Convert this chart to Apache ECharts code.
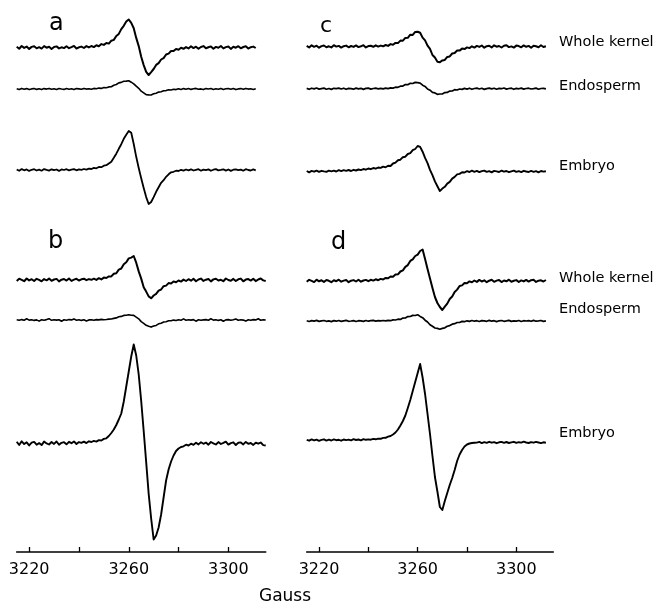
<!DOCTYPE html>
<html>
<head>
<meta charset="utf-8">
<script src="https://cdn.jsdelivr.net/npm/echarts@6/dist/echarts.min.js"></script>
<style>
html,body{margin:0;padding:0;background:#fff;}
#chart{width:658px;height:607px;}
</style>
</head>
<body>
<div id="chart"></div>
<script>
// Magnetic field sampling of every spectrum (Gauss)
var FIELD_START = 3215;
var FIELD_STEP = 1;

// Axis ticks / labels (Gauss)
var tickValues = [3220, 3240, 3260, 3280, 3300];
var tickLabels = [3220, 3260, 3300];

var panelNames = ['a', 'b', 'c', 'd'];
var traceNames = ['Whole kernel', 'Endosperm', 'Embryo'];

// EPR first-derivative signals (arbitrary units), one value per Gauss from FIELD_START
// Panel a
var aWholeKernel = [
 0.8,-1.2,1.5,-0.4,0.9,-1.4,0.6,1.2,-0.8,0.3,
 -1.1,1.4,-0.2,0.7,-1.5,0.5,1.1,-0.9,0.2,-0.6,
 1.3,-0.7,0.4,1.6,-1.0,0.2,0.9,-0.5,1.4,0.1,
 1.5,0.4,2.3,1.3,3.4,2.6,4.5,3.9,6.8,7.6,
 11.5,13.6,18.4,21.7,25.9,28.0,24.6,19.3,9.6,1.4,
 -9.3,-17.6,-24.4,-27.5,-24.6,-21.5,-17.4,-15.6,-12.0,-10.6,
 -7.0,-6.1,-3.5,-3.6,-1.4,-2.2,-0.3,-1.3,0.4,-0.9,
 1.2,-0.6,0.8,-1.3,0.5,1.4,-0.8,0.2,1.1,-1.2,
 0.6,-0.3,1.5,-0.9,0.4,1.0,-1.4,0.7,-0.2,1.3,
 -0.8,0.5,1.2,-1.1,0.3,0.9,-0.5];
var aEndosperm = [
 0.3,-0.5,0.6,-0.2,0.4,-0.6,0.1,0.5,-0.4,0.2,
 -0.6,0.4,-0.1,0.6,-0.3,0.2,-0.5,0.5,0.0,-0.4,
 0.5,-0.2,0.3,-0.6,0.4,0.1,-0.3,0.6,-0.1,0.3,
 -0.2,0.6,0.2,0.9,0.6,1.4,1.2,2.1,2.3,3.8,
 4.5,6.1,6.6,7.8,7.9,8.2,6.8,5.2,2.8,0.7,
 -2.2,-3.8,-5.7,-5.9,-6.0,-4.8,-4.2,-3.1,-2.8,-1.8,
 -1.6,-0.8,-1.0,-0.2,-0.6,0.3,-0.5,0.4,-0.2,0.5,
 -0.4,0.2,0.6,-0.3,0.1,-0.6,0.4,0.0,0.5,-0.4,
 0.3,-0.2,0.6,-0.5,0.2,0.4,-0.3,0.5,-0.6,0.1,
 0.4,-0.3,0.6,-0.1,0.2,-0.5,0.3];
var aEmbryo = [
 0.5,-0.8,0.9,-0.3,0.6,-0.9,0.2,0.8,-0.5,0.4,
 -0.7,0.9,0.1,-0.6,0.7,-0.2,0.5,-0.9,0.6,0.0,
 0.8,-0.4,0.3,0.9,-0.3,0.6,0.2,1.0,0.4,1.4,
 1.0,2.1,1.7,3.0,2.8,4.3,4.8,6.6,8.3,12.2,
 16.3,21.2,25.8,31.2,35.3,39.0,37.2,26.0,13.2,2.0,
 -8.2,-18.0,-27.1,-34.0,-32.0,-27.2,-21.8,-17.2,-12.8,-10.2,
 -6.8,-4.3,-2.3,-1.8,-0.7,-1.0,0.2,-0.6,0.5,-0.3,
 0.7,-0.5,0.2,0.8,-0.7,0.4,-0.2,0.6,-0.8,0.3,
 0.9,-0.4,0.1,0.7,-0.6,0.5,-0.9,0.3,0.6,-0.2,
 0.4,-0.7,0.8,0.0,-0.5,0.6,-0.3];
// Panel b
var bWholeKernel = [
 -0.9,1.3,0.2,-1.2,1.5,-0.4,0.8,-1.0,1.2,0.1,
 -1.3,0.9,-0.3,1.4,-0.8,0.5,1.1,-1.4,0.3,1.0,
 -0.6,1.5,-0.9,0.4,1.2,-0.5,0.7,1.3,-0.2,0.9,
 0.2,1.3,0.1,1.8,0.6,2.4,2.0,3.6,3.6,6.2,
 6.8,10.4,11.5,15.8,17.8,21.6,22.4,24.0,17.3,8.6,
 1.4,-7.3,-11.6,-16.4,-18.3,-15.5,-13.9,-10.6,-9.5,-6.2,
 -5.6,-3.1,-3.5,-1.4,-2.3,-0.5,-1.6,0.4,-1.0,0.8,
 -0.7,1.2,-1.3,0.5,1.4,-0.9,0.3,1.0,-1.4,0.6,
 1.3,-0.5,0.2,-1.2,1.5,0.0,-0.8,1.1,-1.0,0.7,
 1.4,-1.3,0.4,0.9,-0.6,1.2,-1.1,0.5,1.5,-0.4,
 -1.0];
var bEndosperm = [
 0.2,-0.3,0.4,-0.2,1.2,-0.1,0.3,-0.4,0.1,-1.1,
 0.3,-0.2,0.4,1.3,-0.3,0.2,-0.1,0.3,-1.2,0.2,
 -0.3,0.4,0.1,1.1,-0.2,0.3,-0.4,0.2,-1.0,0.1,
 0.3,-0.2,0.4,0.1,0.6,0.2,0.5,0.9,1.0,1.6,
 2.1,3.2,3.6,4.6,4.7,5.2,4.8,4.6,2.8,1.2,
 -1.6,-3.3,-5.3,-6.3,-7.1,-6.1,-5.4,-3.8,-3.2,-2.0,
 -1.7,-0.8,-0.8,-0.1,-0.5,0.3,-0.2,1.1,-0.3,0.2,
 -0.1,0.4,-1.2,0.2,-0.3,0.1,0.4,-0.2,1.2,-0.1,
 0.3,-0.4,0.2,-1.3,0.1,0.4,-0.2,0.3,1.0,-0.3,
 0.2,-0.1,-1.1,0.3,-0.2,0.4,0.1,1.2,-0.3,0.2,
 0.0];
var bEmbryo = [
 1.8,-1.5,2.2,-0.6,1.2,-1.9,0.8,1.6,-1.2,0.4,
 -1.6,1.9,0.1,-1.0,1.5,-0.4,2.0,-1.3,0.7,1.3,
 -0.8,1.7,0.3,2.1,-0.5,1.4,0.6,1.9,0.4,2.2,
 1.5,2.6,1.9,3.4,3.0,4.6,5.2,7.5,10.5,14.0,
 18.5,24.0,30.0,42.0,57.0,72.0,87.0,99.0,88.0,69.0,
 42.5,12.5,-18.6,-50.3,-75.0,-96.0,-92.0,-84.0,-71.0,-54.0,
 -37.0,-26.0,-18.0,-12.0,-7.5,-5.0,-3.5,-2.8,-1.2,-2.0,
 -0.2,-1.4,0.8,-0.9,1.3,-0.3,0.9,-1.2,1.5,0.2,
 -1.0,1.4,-0.5,0.6,1.8,-1.1,0.4,1.2,-1.5,0.7,
 1.1,-0.9,1.6,-0.3,0.5,-1.4,0.8,-0.2,1.0,-1.6,
 -2.0];
// Panel c
var cWholeKernel = [
 0.6,-1.0,1.2,-0.3,0.8,-1.2,0.4,1.0,-0.7,0.2,
 -0.9,1.3,-0.1,0.6,-1.1,0.3,0.9,-0.8,0.5,-0.4,
 1.1,-0.6,0.2,1.3,-0.9,0.4,0.7,-0.3,1.2,-0.1,
 0.9,0.2,1.5,0.6,2.4,1.8,3.6,3.4,5.9,5.8,
 8.6,8.7,11.8,11.6,14.6,14.8,13.8,8.9,6.1,0.9,
 -2.4,-8.5,-11.0,-15.2,-15.8,-13.9,-13.4,-10.4,-9.9,-7.0,
 -6.5,-4.0,-4.1,-2.1,-2.6,-0.9,-1.6,0.2,-1.1,0.6,
 -0.4,1.0,-1.2,0.3,0.8,-0.9,1.2,-0.2,0.5,-1.0,
 0.7,1.3,-0.6,0.1,-1.1,0.9,0.4,-0.8,1.1,-0.3,
 0.6,-1.2,0.8,0.2,-0.7,1.2,-0.5,0.3];
var cEndosperm = [
 0.3,-0.6,0.5,-0.2,0.7,-0.4,0.1,0.6,-0.5,0.2,
 -0.7,0.4,0.0,0.6,-0.3,0.5,-0.6,0.3,0.1,-0.5,
 0.6,-0.2,0.4,-0.7,0.3,0.6,-0.4,0.2,0.5,-0.1,
 0.4,-0.2,0.6,0.1,0.8,0.6,1.5,1.4,2.5,2.6,
 4.1,4.0,5.4,5.2,6.3,6.0,5.6,3.5,2.3,-0.3,
 -1.5,-3.6,-4.2,-5.6,-5.3,-5.3,-3.9,-3.7,-2.4,-2.3,
 -1.0,-1.3,-0.3,-0.7,0.3,-0.4,0.5,-0.6,0.2,0.6,
 -0.3,0.4,-0.7,0.1,0.6,-0.2,0.5,-0.5,0.3,0.0,
 0.7,-0.4,0.2,0.5,-0.6,0.3,-0.1,0.6,-0.4,0.2,
 0.5,-0.3,0.1,0.6,-0.5,0.2,0.4,-0.2];
var cEmbryo = [
 0.5,-0.8,0.6,-0.2,0.9,-0.4,0.7,0.1,-0.3,0.9,
 0.2,0.9,0.0,1.4,0.4,1.3,0.6,1.5,0.5,1.7,
 1.0,2.0,1.4,2.5,1.8,3.0,2.3,3.5,2.8,4.0,
 3.6,4.9,4.2,5.7,5.5,8.0,8.9,11.3,11.8,14.3,
 14.8,17.5,18.3,21.3,22.5,25.5,24.6,19.8,13.6,8.4,
 1.6,-3.7,-9.9,-14.7,-19.5,-17.1,-15.3,-12.1,-10.4,-7.1,
 -5.4,-2.9,-2.4,-0.8,-1.0,0.3,-0.5,0.8,-0.3,0.6,
 -0.6,0.4,0.9,-0.4,0.3,-0.8,0.6,0.1,-0.5,0.8,
 -0.2,0.5,-0.7,0.2,0.9,-0.4,0.3,-0.6,0.7,0.0,
 -0.5,0.6,-0.3,0.4,-0.8,0.5,-0.1,0.3];
// Panel d
var dWholeKernel = [
 -0.8,1.2,0.1,-1.1,1.3,-0.3,0.7,-0.9,1.0,0.2,
 -1.2,0.8,-0.2,1.3,-0.7,0.4,1.0,-1.2,0.3,0.9,
 -0.5,1.3,-0.7,0.5,1.1,-0.2,1.2,0.4,1.7,0.8,
 2.1,1.5,3.1,2.7,4.5,4.3,6.4,6.7,9.5,10.6,
 14.1,15.9,20.1,21.7,25.0,26.4,30.0,31.5,22.0,12.0,
 2.5,-7.0,-16.0,-22.0,-26.0,-29.0,-25.6,-22.6,-18.0,-15.5,
 -11.0,-8.6,-5.0,-4.4,-2.0,-2.3,-0.4,-1.3,0.5,-0.9,
 1.1,-0.5,0.7,-1.2,0.3,1.2,-0.8,0.4,1.0,-1.1,
 0.5,-0.3,1.3,-0.7,0.2,0.9,-1.0,0.6,-0.4,1.1,
 -0.6,0.8,1.2,-0.9,0.3,0.7,-0.5,1.0];
var dEndosperm = [
 0.3,-0.5,0.4,-0.1,0.6,-0.4,0.2,0.5,-0.3,0.1,
 -0.6,0.4,-0.2,0.5,-0.4,0.2,0.6,-0.3,0.0,0.4,
 -0.5,0.3,0.1,-0.4,0.5,-0.2,0.3,0.6,-0.1,0.4,
 0.1,0.5,0.2,0.7,0.3,1.1,1.0,1.8,1.6,2.9,
 3.0,4.4,4.5,5.6,5.5,6.2,4.6,3.3,0.8,-1.0,
 -3.7,-5.3,-7.0,-7.4,-8.2,-7.4,-6.8,-5.3,-4.6,-3.2,
 -2.7,-1.5,-1.5,-0.4,-0.7,0.2,-0.4,0.5,-0.2,0.3,
 -0.5,0.4,0.1,-0.3,0.6,-0.2,0.3,-0.6,0.2,0.5,
 -0.3,0.1,0.6,-0.4,0.2,-0.1,0.5,-0.5,0.3,0.0,
 0.4,-0.3,0.6,-0.2,0.1,0.5,-0.4,0.2];
var dEmbryo = [
 1.2,0.3,1.6,0.6,1.4,0.2,1.1,1.7,0.4,1.3,
 0.5,1.6,0.8,1.2,0.3,1.5,0.9,1.4,0.6,1.8,
 1.0,1.5,0.7,1.9,1.2,1.6,1.3,2.1,1.7,2.4,
 2.2,3.1,3.2,4.3,5.0,6.5,8.5,11.5,15.5,20.0,
 25.5,33.0,41.0,50.0,59.0,68.0,77.0,63.5,47.0,27.0,
 7.0,-15.0,-36.0,-50.5,-66.0,-69.0,-60.0,-52.0,-44.0,-37.0,
 -29.0,-20.0,-13.5,-9.0,-5.5,-3.5,-2.5,-2.0,-1.8,-1.6,
 -0.9,-2.1,-1.2,-1.9,-0.8,-1.7,-1.1,-2.2,-1.3,-0.9,
 -1.8,-1.0,-2.0,-1.4,-0.8,-1.9,-1.2,-1.6,-0.7,-1.5,
 -2.0,-1.1,-1.7,-0.9,-1.5,-2.1,-1.3,-1.8];

// ---------- layout (positions & styles, not data) ----------
var FONT = '"DejaVu Sans", Verdana, sans-serif';
var Y_MAX = 552; // vertical stacking space of each column
// vertical offset (stack baseline) and stroke of every trace
var layout = [
  {col: 0, values: aWholeKernel, base: 504.5, w: 2.0},
  {col: 0, values: aEndosperm,   base: 463,   w: 1.6},
  {col: 0, values: aEmbryo,      base: 382,   w: 1.8},
  {col: 0, values: bWholeKernel, base: 272,   w: 2.0},
  {col: 0, values: bEndosperm,   base: 232,   w: 1.6},
  {col: 0, values: bEmbryo,      base: 108.5, w: 1.9},
  {col: 1, values: cWholeKernel, base: 505.5, w: 2.0},
  {col: 1, values: cEndosperm,   base: 463.3, w: 1.7},
  {col: 1, values: cEmbryo,      base: 380.5, w: 1.9},
  {col: 1, values: dWholeKernel, base: 271,   w: 2.0},
  {col: 1, values: dEndosperm,   base: 231,   w: 1.7},
  {col: 1, values: dEmbryo,      base: 111,   w: 1.9}
];

var series = layout.map(function (t, k) {
  return {
    type: 'line',
    name: panelNames[Math.floor(k / 3)] + ' ' + traceNames[k % 3],
    xAxisIndex: t.col, yAxisIndex: t.col,
    showSymbol: false, symbol: 'none',
    lineStyle: {color: '#000', width: t.w, join: 'round'},
    animation: false, silent: true,
    data: t.values.map(function (v, i) { return [FIELD_START + i * FIELD_STEP, v + t.base]; })
  };
});

function xAxisFor(i) {
  return {
    type: 'value', gridIndex: i, min: 3215, max: 3315,
    axisLine: {show: true, onZero: false, lineStyle: {color: '#000', width: 1.6}},
    axisTick: {show: true, inside: true, length: 5, customValues: tickValues, lineStyle: {color: '#000', width: 1.3}},
    axisLabel: {show: true, customValues: tickLabels, color: '#000', fontSize: 16, fontFamily: FONT, margin: 10,
      formatter: function (v) { return String(v); }},
    splitLine: {show: false}
  };
}
function yAxisFor(i) {
  return {type: 'value', gridIndex: i, min: 0, max: Y_MAX, show: false, splitLine: {show: false}};
}

var texts = [];
function addText(txt, x, y, size, align) {
  texts.push({type: 'text', x: x, y: y, style: {
    text: txt, fill: '#000', font: size + 'px ' + FONT, textAlign: align || 'left', textVerticalAlign: 'middle'}});
}
// panel letters
addText(panelNames[0], 49, 24, 24);
addText(panelNames[1], 48, 242, 24);
addText(panelNames[2], 320, 26, 22);
addText(panelNames[3], 331, 243, 24);
// trace labels (right side)
var labelY = [42, 86, 166, 278, 309, 433];
labelY.forEach(function (y, i) { addText(traceNames[i % 3], 559, y, 14.5); });
// axis name
addText('Gauss', 285, 597, 17, 'center');

var chart = echarts.init(document.getElementById('chart'), null, {renderer: 'canvas'});
chart.setOption({
  backgroundColor: '#fff',
  animation: false,
  grid: [
    {left: 16.7, width: 249, top: 0, height: Y_MAX},
    {left: 306.7, width: 246.6, top: 0, height: Y_MAX}
  ],
  xAxis: [xAxisFor(0), xAxisFor(1)],
  yAxis: [yAxisFor(0), yAxisFor(1)],
  series: series,
  graphic: texts
});
</script>
</body>
</html>
